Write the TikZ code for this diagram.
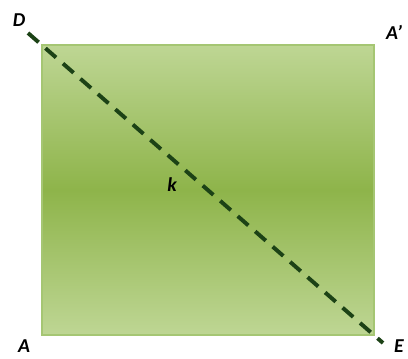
\documentclass[tikz,border=0pt]{standalone}
\usepackage{fontspec}
\setmainfont{Carlito}
\usepackage{xcolor}
\usetikzlibrary{positioning}

\definecolor{sqtop}{RGB}{190,214,148}
\definecolor{sqmid}{RGB}{142,180,74}
\definecolor{sqedge}{RGB}{165,198,115}
\definecolor{diagline}{RGB}{28,66,22}

\begin{document}
\begin{tikzpicture}[
  x=0.025cm, y=-0.025cm,
  lbl/.style={font=\fontsize{14}{16}\selectfont\bfseries\itshape, inner sep=0pt},
  diag/.style={draw=diagline, line width=2.8pt, dash pattern=on 10pt off 6.5pt}
]
\useasboundingbox (0,0) rectangle (408,358);

% square with green gradient
\shade[top color=sqtop, bottom color=sqtop, middle color=sqmid] (42,45) rectangle (374,335);
\draw[sqedge, line width=0.8pt] (42,45) rectangle (374,335);

% end points of the diagonal
\coordinate (dEnd) at (28,33);
\coordinate (eEnd) at (383,343);

% labels
\node[lbl] (d) at (19,20) {D};
\node[lbl] (a') at (394,32) {A’};
\node[lbl] (a) at (24,346) {A};
\node[lbl] (e) at (399,346) {E};
\node[lbl] (k) at (172,185) {k};

\draw[diag] (dEnd) -- (eEnd);
\end{tikzpicture}
\end{document}
